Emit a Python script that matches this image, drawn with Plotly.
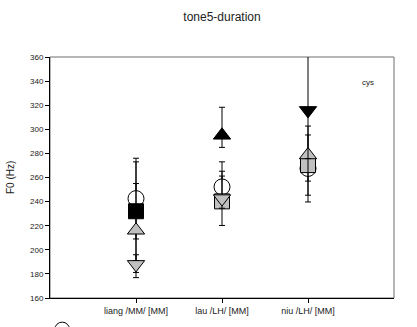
import plotly.graph_objects as go

# Data
categories = ["liang /MM/ [MM]", "lau /LH/ [MM]", "niu /LH/ [MM]"]
cat_pos = [1, 2, 3]
y_ticks = [160, 180, 200, 220, 240, 260, 280, 300, 320, 340, 360]

circle_vals = [242.5, 252.2, 267.5]
circle_err_plus = [33.5, 13, 8]
circle_err_minus = [33.5, 13, 10.5]

square_vals = [232, 240.2, 270.3]
square_err_plus = [41, 21, 25]
square_err_minus = [41, 20, 25]

triup_vals = [216.2, 295, 278.7]
triup_err_plus = [38.8, 23.3, 24]
triup_err_minus = [35, 10, 39]

tridown_vals = [187.9, 242.5, 315.7]
tridown_err_plus = [8, 30.5, 48]
tridown_err_minus = [11, 8, 40]

GRAY = "#c0c0c0"
BLACK = "#000000"
WHITE = "#ffffff"

series = [
    ("circle", "circle", circle_vals, circle_err_plus, circle_err_minus, [WHITE, WHITE, WHITE], 16),
    ("square", "square", square_vals, square_err_plus, square_err_minus, [BLACK, GRAY, GRAY], 15),
    ("triup", "triangle-up", triup_vals, triup_err_plus, triup_err_minus, [GRAY, BLACK, GRAY], 15),
    ("tridown", "triangle-down", tridown_vals, tridown_err_plus, tridown_err_minus, [GRAY, GRAY, BLACK], 15),
]

FONT = "Arial, Liberation Sans, sans-serif"

fig = go.Figure()
for name, sym, vals, ep, em, cols, size in series:
    fig.add_trace(go.Scatter(
        x=cat_pos, y=vals, mode="markers", name=name, showlegend=False,
        marker=dict(symbol=sym, size=size, color=cols, line=dict(color=BLACK, width=1)),
        error_y=dict(type="data", symmetric=False, array=ep, arrayminus=em,
                     color=BLACK, thickness=1, width=3),
    ))

fig.update_layout(
    width=417, height=327,
    margin=dict(l=50, r=23, t=57, b=29),
    paper_bgcolor="white", plot_bgcolor="white",
    font=dict(family=FONT, color="#222"),
    title=dict(text="tone5-duration", x=0.5, xref="paper", y=1 - 16.5 / 327,
               yanchor="middle", xanchor="center", font=dict(size=12, color="#222")),
    xaxis=dict(range=[0, 4], tickvals=cat_pos, ticktext=categories,
               showgrid=False, zeroline=False, showline=True, linecolor=BLACK, linewidth=1,
               ticks="outside", ticklen=4, tickcolor=BLACK, tickfont=dict(size=9)),
    yaxis=dict(range=[160, 360], tickvals=y_ticks, showgrid=False, zeroline=False,
               showline=True, linecolor=BLACK, linewidth=1,
               ticks="outside", ticklen=4, tickcolor=BLACK, tickfont=dict(size=8)),
    shapes=[
        dict(type="rect", xref="paper", yref="paper", x0=0, x1=1, y0=0, y1=1,
             line=dict(color="#6e6e6e", width=1), layer="below"),
        dict(type="circle", xref="paper", yref="paper",
             x0=0.0354 - 0.0215, x1=0.0354 + 0.0215, y0=-0.131 - 0.031, y1=-0.131 + 0.031,
             line=dict(color=BLACK, width=1), fillcolor=WHITE),
    ],
    annotations=[
        dict(text="F0 (Hz)", xref="paper", yref="paper", x=-0.1147, y=0.5,
             textangle=-90, showarrow=False, font=dict(size=10, color="#222"),
             xanchor="center", yanchor="middle"),
        dict(text="cys", xref="x", yref="y", x=3.7, y=339, showarrow=False,
             font=dict(size=8, color="#222"), xanchor="center", yanchor="middle"),
    ],
)

fig.write_html("out.html")
